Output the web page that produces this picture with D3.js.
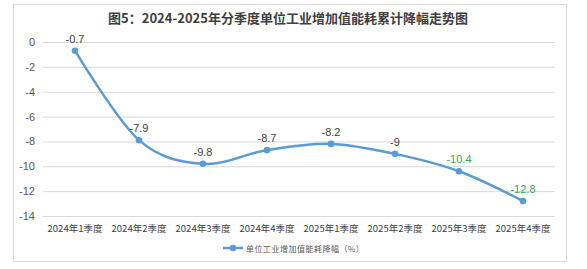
<!DOCTYPE html>
<html>
<head>
<meta charset="utf-8">
<script src="https://cdn.jsdelivr.net/npm/d3@7"></script>
<style>
  html, body { margin: 0; padding: 0; background: #fff; }
  svg { display: block; }
</style>
</head>
<body>
<div id="chart"></div>
<script>
// chart data
const categories = ["2024年1季度", "2024年2季度", "2024年3季度", "2024年4季度",
                    "2025年1季度", "2025年2季度", "2025年3季度", "2025年4季度"];
const values = [-0.7, -7.9, -9.8, -8.7, -8.2, -9, -10.4, -12.8];
const labelColors = ["#404040", "#404040", "#404040", "#404040",
                     "#404040", "#404040", "#3aa65a", "#3aa65a"];
const yTicks = [0, -2, -4, -6, -8, -10, -12, -14];
const titleText = "图5：2024-2025年分季度单位工业增加值能耗累计降幅走势图";
const legendText = "单位工业增加值能耗降幅（%）";

const width = 587, height = 269;
const svg = d3.select("#chart").append("svg")
  .attr("width", width)
  .attr("height", height);

// outer frame
svg.append("rect")
  .attr("x", 13.5).attr("y", 4.5)
  .attr("width", 553).attr("height", 257)
  .attr("fill", "#fff")
  .attr("stroke", "#d9d9d9");

// title
svg.append("text")
  .attr("x", 288).attr("y", 23)
  .attr("text-anchor", "middle")
  .style("font-family", "'Noto Sans CJK SC', sans-serif")
  .style("font-size", "13px")
  .style("font-weight", "bold")
  .style("fill", "#404040")
  .text(titleText);

const x = d3.scaleBand().domain(categories).range([43, 555]);
const y = d3.scaleLinear().domain([-14, 0]).range([216, 42]);

// gridlines + y labels
const yAxis = d3.axisLeft(y).tickValues(yTicks).tickSize(-(555 - 43)).tickPadding(8)
  .tickFormat(d3.format("d"));
const gy = svg.append("g").attr("transform", "translate(43,0)").call(yAxis);
gy.select(".domain").remove();
gy.selectAll(".tick line").attr("stroke", "#d9d9d9");
gy.selectAll(".tick text")
  .style("font-family", "'Liberation Sans', Arial, sans-serif")
  .style("font-size", "11px")
  .style("fill", "#595959")
  .text(d => d === 0 ? "0" : d3.format("d")(d).replace("−", "-"));

// x labels
const xAxis = d3.axisBottom(x).tickSize(0).tickPadding(9);
const gx = svg.append("g").attr("transform", "translate(0,216)").call(xAxis);
gx.select(".domain").remove();
gx.selectAll(".tick text")
  .style("font-family", "'Noto Sans CJK SC', sans-serif")
  .style("font-size", "9.5px")
  .style("fill", "#404040");

// smoothed line
const cx = d => x(d) + x.bandwidth() / 2;
const line = d3.line()
  .x((d, i) => cx(categories[i]))
  .y(d => y(d))
  .curve(d3.curveCatmullRom.alpha(0));

svg.append("path")
  .datum(values)
  .attr("d", line)
  .attr("fill", "none")
  .attr("stroke", "#5b9bd5")
  .attr("stroke-width", 2.5);

svg.selectAll(".pt")
  .data(values)
  .join("circle")
  .attr("class", "pt")
  .attr("cx", (d, i) => cx(categories[i]))
  .attr("cy", d => y(d))
  .attr("r", 3.3)
  .attr("fill", "#5b9bd5");

// data labels
svg.selectAll(".lbl")
  .data(values)
  .join("text")
  .attr("class", "lbl")
  .attr("x", (d, i) => cx(categories[i]))
  .attr("y", d => y(d) - 8)
  .attr("text-anchor", "middle")
  .style("font-family", "'Liberation Sans', Arial, sans-serif")
  .style("font-size", "11px")
  .style("fill", (d, i) => labelColors[i])
  .text(d => d);

// legend
const lg = svg.append("g").attr("transform", "translate(223,248)");
lg.append("line").attr("x1", 0).attr("x2", 20).attr("y1", 0).attr("y2", 0)
  .attr("stroke", "#5b9bd5").attr("stroke-width", 2.5);
lg.append("circle").attr("cx", 10).attr("cy", 0).attr("r", 3.3).attr("fill", "#5b9bd5");
lg.append("text")
  .attr("x", 23).attr("y", 3.5)
  .style("font-family", "'Noto Sans CJK SC', sans-serif")
  .style("font-size", "8px")
  .style("letter-spacing", "0.5px")
  .style("fill", "#595959")
  .text(legendText);
</script>
</body>
</html>
